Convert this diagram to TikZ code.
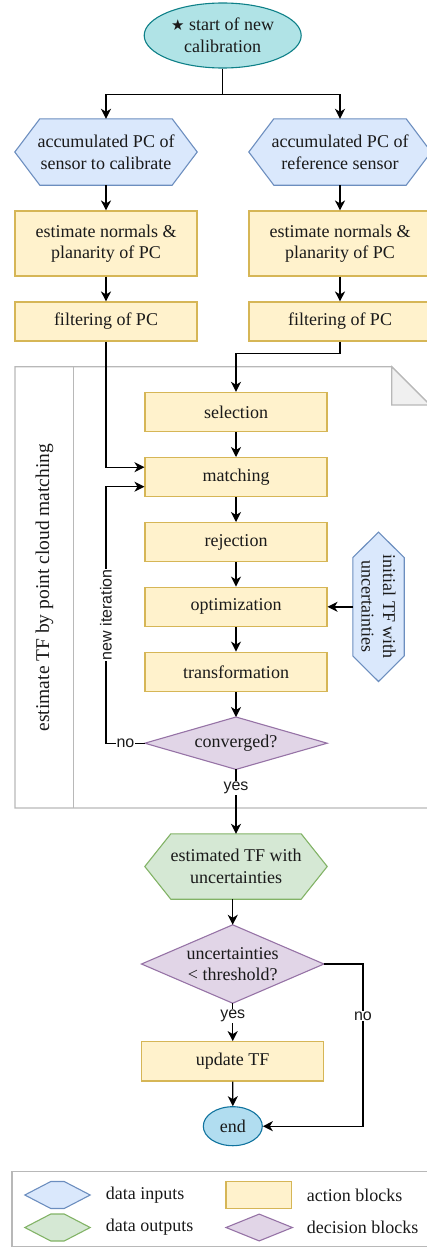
\documentclass[tikz,border=0pt]{standalone}
\usepackage{fontspec}
\usepackage{graphicx}
\setmainfont{Liberation Serif}
\newfontfamily\lsans{Liberation Sans}
\newfontfamily\djv{DejaVu Sans}
\usetikzlibrary{arrows.meta,backgrounds,calc,shapes.geometric}
\definecolor{inF}{HTML}{DAE8FC}\definecolor{inD}{HTML}{6C8EBF}
\definecolor{actF}{HTML}{FFF2CC}\definecolor{actD}{HTML}{D6B656}
\definecolor{outF}{HTML}{D5E8D4}\definecolor{outD}{HTML}{82B366}
\definecolor{decF}{HTML}{E1D5E7}\definecolor{decD}{HTML}{9673A6}
\definecolor{stF}{HTML}{B0E3E6}\definecolor{stD}{HTML}{0E8088}
\definecolor{enF}{HTML}{B1DDF0}\definecolor{enD}{HTML}{10739E}
\definecolor{contD}{HTML}{B8B8B8}\definecolor{foldF}{HTML}{F0F0F0}
\definecolor{txt}{HTML}{1A1A1A}
\newcommand\hexH[3]{\draw[#2] (#1.west) -- ([xshift=#3]#1.north west) -- ([xshift=-#3]#1.north east) -- (#1.east) -- ([xshift=-#3]#1.south east) -- ([xshift=#3]#1.south west) -- cycle;}
\newcommand\hexV[3]{\draw[#2] (#1.north) -- ([yshift=-#3]#1.north east) -- ([yshift=#3]#1.south east) -- (#1.south) -- ([yshift=#3]#1.south west) -- ([yshift=-#3]#1.north west) -- cycle;}
\newcommand\diam[2]{\draw[#2] (#1.west) -- (#1.north) -- (#1.east) -- (#1.south) -- cycle;}
\begin{document}
\begin{tikzpicture}[x=1pt,y=-1pt,
  base/.style={inner sep=0pt, align=center, font=\fontsize{18}{21.6}\selectfont, text=txt},
  act/.style={base, draw=actD, fill=actF, line width=1.1pt, minimum width=182pt},
  blank/.style={base, minimum width=182pt},
  inshape/.style={draw=inD, fill=inF, line width=1.1pt},
  outshape/.style={draw=outD, fill=outF, line width=1.1pt},
  decshape/.style={draw=decD, fill=decF, line width=1.1pt},
  arr/.style={line width=1.4pt, -{Stealth[length=10pt,width=10pt,inset=3pt]}},
  plain/.style={line width=1.4pt},
  lbl/.style={font=\lsans\fontsize{16}{19}\selectfont, fill=white, inner sep=1pt, text=txt},
  legtxt/.style={base, anchor=west}
]
\useasboundingbox (0,0) rectangle (427,1247);

% container
\draw[contD, line width=1.2pt] (15,366.7) -- (391.7,366.7) -- (430,405) -- (430,808) -- (15,808) -- cycle;
\draw[contD, line width=1.2pt] (73.7,366.7) -- (73.7,808);
\draw[contD, line width=1.2pt, fill=foldF] (391.7,366.7) -- (391.7,405) -- (430,405) -- cycle;
\node[base, rotate=90, font=\fontsize{19.5}{23}\selectfont] (title) at (44.5,587.5) {estimate TF by point cloud matching};

% nodes
\node[base, ellipse, draw=stD, fill=stF, line width=1.1pt, minimum width=157pt, minimum height=65pt] (start) at (222.7,35.5) {{\djv\fontsize{15}{18}\selectfont ★} start of new\\calibration};
\node[blank, minimum height=66pt] (in1) at (106,152) {accumulated PC of\\sensor to calibrate};
\node[blank, minimum height=66pt] (in2) at (340,152) {accumulated PC of\\reference sensor};
\node[act, minimum height=65pt] (est1) at (106,243.5) {estimate normals \&\\planarity of PC};
\node[act, minimum height=65pt] (est2) at (340,243.5) {estimate normals \&\\planarity of PC};
\node[act, minimum height=39pt] (filt1) at (106,321.5) {filtering of PC};
\node[act, minimum height=39pt] (filt2) at (340,321.5) {filtering of PC};

\node[act, minimum height=39.3pt] (sel) at (236,412) {selection};
\node[act, minimum height=39.3pt] (match) at (236,477.2) {matching};
\node[act, minimum height=39.3pt] (rej) at (236,542.2) {rejection};
\node[act, minimum height=39.3pt] (opt) at (236,606.8) {optimization};
\node[act, minimum height=39.3pt] (trans) at (236,671.8) {transformation};
\node[blank, minimum height=52pt] (conv) at (236,743.2) {converged?};
\node[base, minimum width=51pt, minimum height=149pt] (init) at (378.5,606.8) {};
\node[base, rotate=-90] (inittxt) at (init) {initial TF with\\uncertainties};

\node[blank, minimum height=65pt] (out) at (236,866.5) {estimated TF with\\uncertainties};
\node[blank, minimum height=78pt] (dec) at (232.7,964) {uncertainties\\\textless{} threshold?};
\node[act, minimum height=39.3pt] (upd) at (232.7,1061.3) {update TF};
\node[base, ellipse, draw=enD, fill=enF, line width=1.1pt, minimum width=59pt, minimum height=39pt] (end) at (232.8,1126.2) {end};

% legend
\draw[contD, line width=1.2pt] (12,1171.7) rectangle (432,1246.3);
\node[base, minimum width=65pt, minimum height=26.6pt] (lgin) at (57.5,1195) {};
\node[base, minimum width=65pt, minimum height=26.6pt] (lgout) at (57.5,1227.5) {};
\node[base, draw=actD, fill=actF, line width=1.1pt, minimum width=65.7pt, minimum height=26.6pt] (lgact) at (258.8,1195) {};
\node[base, minimum width=66pt, minimum height=26.4pt] (lgdec) at (259.2,1227.5) {};
\node[legtxt] (lt1) at (105.7,1195) {data inputs};
\node[legtxt] (lt2) at (105.7,1227.5) {data outputs};
\node[legtxt] (lt3) at (306.7,1195) {action blocks};
\node[legtxt] (lt4) at (306.7,1227.5) {decision blocks};

\begin{pgfonlayer}{background}
\hexH{in1}{inshape}{25pt}
\hexH{in2}{inshape}{25pt}
\hexH{out}{outshape}{26pt}
\hexV{init}{inshape}{25.5pt}
\diam{conv}{decshape}
\diam{dec}{decshape}
\hexH{lgin}{inshape}{26pt}
\hexH{lgout}{outshape}{26pt}
\diam{lgdec}{decshape}
\end{pgfonlayer}

% connectors
\draw[arr] (start.south) -- ++(0,26) -| (in1.north);
\draw[arr] (start.south) -- ++(0,26) -| (in2.north);
\draw[arr] (in1.south) -- (est1.north);
\draw[arr] (in2.south) -- (est2.north);
\draw[arr] (est1.south) -- (filt1.north);
\draw[arr] (est2.south) -- (filt2.north);
\draw[arr] (filt1.south) |- ([yshift=10pt]match.west);
\draw[arr] (filt2.south) -- ++(0,12) -| (sel.north);
\draw[arr] (sel) -- (match);
\draw[arr] (match) -- (rej);
\draw[arr] (rej) -- (opt);
\draw[arr] (opt) -- (trans);
\draw[arr] (trans.south) -- (conv.north);
\draw[arr] (init.west) -- (opt.east);
\draw[arr] (conv.west) -- node[lbl, pos=0.5]{no} (conv.west -| filt1.south) |- node[lbl, rotate=90, pos=0.25]{new iteration} ([yshift=-9.5pt]match.west);
\draw[arr] (conv.south) -- node[lbl, pos=0.29]{yes} (out.north);
\draw[arr] (dec.north |- out.south) -- (dec.north);
\draw[arr] (dec.south) -- node[lbl, pos=0.34]{yes} (upd.north);
\draw[arr] (upd.south) -- (end.north);
\draw[arr] (dec.east) -- ++(39,0) |- node[lbl, pos=0.16]{no} (end.east);
\end{tikzpicture}
\end{document}
